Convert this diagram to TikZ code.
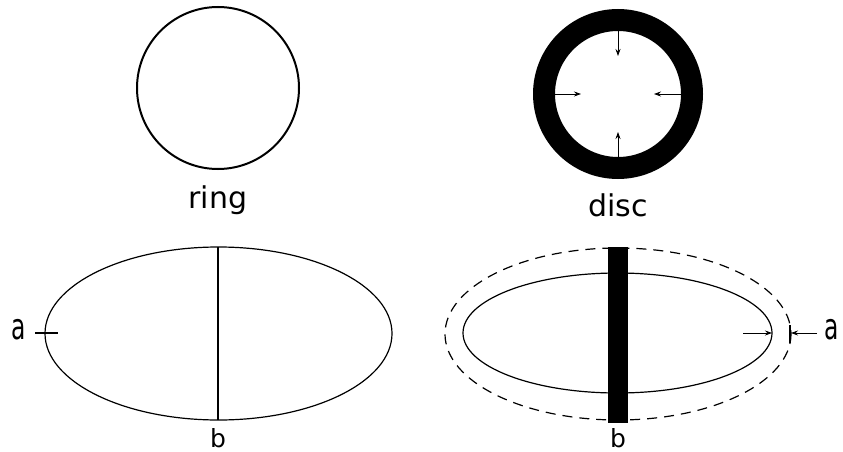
\documentclass[tikz,border=0pt]{standalone}
\usepackage{fontspec}
\setmainfont{DejaVu Sans}
\usetikzlibrary{arrows.meta,positioning}

\begin{document}
\begin{tikzpicture}[x=1pt, y=-1pt,
  outline/.style={line width=1.2pt},
  rim/.style={dash pattern=on 10pt off 7pt, line width=1.2pt},
  push/.style={-{Stealth[length=7pt,width=5pt]}, line width=0.8pt},
  bigname/.style={font=\fontsize{30}{30}\selectfont, inner sep=0pt},
  axisname/.style={font=\fontsize{24}{24}\selectfont, inner sep=0pt},
]
  \useasboundingbox (0,0) rectangle (843,452);

  % ring
  \draw[line width=2pt] (218,88) circle (81);
  \node[bigname] (ringname) at (218,200) {ring};

  % disc, pressed inwards
  \fill[even odd rule] (618,94) circle (85) circle (63);
  \node[bigname] (discname) at (618,205) {disc};
  \coordinate (dtop) at (618,31);   \coordinate (dtopin) at (618,56);
  \coordinate (dbot) at (618,157);  \coordinate (dbotin) at (618,132);
  \coordinate (dlft) at (555,94);   \coordinate (dlftin) at (581,94);
  \coordinate (drgt) at (681,94);   \coordinate (drgtin) at (654,94);
  \draw[push] (dtop) -- (dtopin);
  \draw[push] (dbot) -- (dbotin);
  \draw[push] (dlft) -- (dlftin);
  \draw[push] (drgt) -- (drgtin);

  % ring seen edge-on
  \draw[outline] (218.5,333.5) ellipse [x radius=173.5, y radius=86.5];
  \coordinate (rtop) at (218,247);
  \coordinate (rbot) at (218,420);
  \draw[line width=2.5pt] (rtop) -- (rbot);
  \coordinate (ltick1) at (35,333);
  \coordinate (ltick2) at (58,333);
  \draw[outline] (ltick1) -- (ltick2);
  \node[axisname, font=\fontsize{36}{36}\selectfont] (la) at (19,330) {\scalebox{0.65}[1]{a}};
  \node[axisname, font=\fontsize{25}{25}\selectfont] (lb) at (218,438) {b};

  % disc seen edge-on
  \draw[rim] (618,334) ellipse [x radius=173, y radius=86];
  \draw[outline] (617.5,333) ellipse [x radius=154.5, y radius=60];
  \fill (608,247) rectangle (628,423);
  \coordinate (inedge) at (772,333);
  \coordinate (inarrow) at (743,333);
  \coordinate (outedge) at (791,333);
  \coordinate (outarrow) at (817,333);
  \coordinate (otick1) at (790,325);
  \coordinate (otick2) at (790,343);
  \draw[push] (inarrow) -- (inedge);
  \draw[push] (outarrow) -- (outedge);
  \draw[outline] (otick1) -- (otick2);
  \node[axisname, font=\fontsize{36}{36}\selectfont] (ra) at (832,330) {\scalebox{0.65}[1]{a}};
  \node[axisname, font=\fontsize{25}{25}\selectfont] (rb) at (618,438) {b};
\end{tikzpicture}
\end{document}
